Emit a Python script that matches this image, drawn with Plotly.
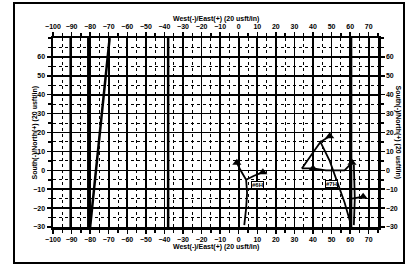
import plotly.graph_objects as go

# axis ticks
x_ticks = list(range(-100, 80, 10))   # West(-)/East(+)
y_ticks = list(range(-30, 70, 10))    # South(-)/North(+)
x_range = [-100, 75]
y_range = [-30, 70]

# well paths
v1_x = [-90.5, -90.5]; v1_y = [-30, 70]
v2_x = [-81, -81];     v2_y = [-30, 70]
v3_x = [-38, -38];     v3_y = [-30, 70]
v4_x = [60.5, 60.5];   v4_y = [-30, 70]
diag_x = [-80, -69.5]; diag_y = [-30, 70]

a_x = [-1, 1, 4, 4.5, 4, 3];      a_y = [4, 0, -5, -12, -20, -29]
b_x = [4, 8, 13];                 b_y = [-5, -3, -1]
c_x = [34, 44, 49, 53, 57, 60.5]; c_y = [1, 15, 5, -6, -17, -29]
c2_x = [44, 49];                  c2_y = [15, 18]
d_x = [34, 40, 47, 57, 61];       d_y = [1, 1, 0, 0, 4]
f_x = [62, 62.5, 62];             f_y = [3, -15, -29]
g_x = [61, 67];                   g_y = [-15, -14]

labels_text = ["#6H", "#7H"]
labels_x = [10, 50]
labels_y = [-8, -7]

fig = go.Figure()
line_style = dict(color="black", width=2.5)
for xs, ys in [(v1_x, v1_y), (v2_x, v2_y), (v3_x, v3_y), (v4_x, v4_y), (diag_x, diag_y)]:
    fig.add_trace(go.Scatter(x=xs, y=ys, mode="lines", line=line_style, hoverinfo="skip"))

path_style = dict(color="black", width=1.8)
for xs, ys in [(a_x, a_y), (b_x, b_y), (c_x, c_y), (c2_x, c2_y), (d_x, d_y), (f_x, f_y), (g_x, g_y)]:
    fig.add_trace(go.Scatter(x=xs, y=ys, mode="lines", line=path_style, hoverinfo="skip"))

# arrow / marker blobs at path ends
fig.add_trace(go.Scatter(x=[a_x[0], b_x[-1], c2_x[-1], d_x[1], g_x[-1], d_x[-1]],
                         y=[a_y[0], b_y[-1], c2_y[-1], d_y[1], g_y[-1], d_y[-1]],
                         mode="markers",
                         marker=dict(symbol="triangle-up", size=8, color="black"),
                         hoverinfo="skip"))

# invisible trace for mirrored axes
fig.add_trace(go.Scatter(x=[x_range[0]], y=[y_range[0]], xaxis="x2", yaxis="y2",
                         mode="markers", marker=dict(opacity=0), hoverinfo="skip"))

tick_font = dict(family="Liberation Sans", size=7, color="black", weight=700)
minor = dict(dtick=5, ticklen=3, tickcolor="black", ticks="outside",
             showgrid=True, gridcolor="black", griddash="dot", gridwidth=1)

fig.update_layout(
    template="none",
    width=408, height=274,
    margin=dict(l=53, r=30, t=38, b=47),
    paper_bgcolor="white", plot_bgcolor="white",
    font=dict(family="Liberation Sans", color="black"),
    showlegend=False,
    xaxis=dict(range=x_range, tickvals=x_ticks, ticks="outside", ticklen=4, tickwidth=1.5,
               tickcolor="black", tickfont=tick_font, showgrid=True, gridcolor="black",
               gridwidth=1.6, zeroline=False, showline=True, linecolor="black", linewidth=2.5,
               minor=minor, automargin=False),
    yaxis=dict(range=y_range, tickvals=y_ticks, ticks="outside", ticklen=4, tickwidth=1.5,
               tickcolor="black", tickfont=tick_font, showgrid=True, gridcolor="black",
               gridwidth=1.6, zeroline=False, showline=True, linecolor="black", linewidth=2.5,
               minor=minor, automargin=False),
    xaxis2=dict(range=x_range, tickvals=x_ticks, overlaying="x", side="top", ticks="outside",
                ticklen=4, tickwidth=1.5, tickcolor="black", tickfont=tick_font, showgrid=False,
                zeroline=False, showline=True, linecolor="black", linewidth=2.5,
                minor=dict(dtick=5, ticklen=3, ticks="outside", tickcolor="black"), automargin=False),
    yaxis2=dict(range=y_range, tickvals=y_ticks, overlaying="y", side="right", ticks="outside",
                ticklen=4, tickwidth=1.5, tickcolor="black", tickfont=tick_font, showgrid=False,
                zeroline=False, showline=True, linecolor="black", linewidth=2.5,
                minor=dict(dtick=5, ticklen=3, ticks="outside", tickcolor="black"), automargin=False),
)

title_font = dict(family="Liberation Sans", size=7, color="black", weight=700)
xt = "West(-)/East(+) (20 usft/in)"
yt = "South(-)/North(+) (20 usft/in)"
fig.add_annotation(text=xt, xref="paper", yref="paper", x=0.5, y=1.0, yshift=19,
                   yanchor="middle", showarrow=False, font=title_font)
fig.add_annotation(text=xt, xref="paper", yref="paper", x=0.5, y=0.0, yshift=-20,
                   yanchor="middle", showarrow=False, font=title_font)
fig.add_annotation(text=yt, xref="paper", yref="paper", x=0.0, y=0.5, xshift=-19,
                   xanchor="center", textangle=-90, showarrow=False, font=title_font)
fig.add_annotation(text=yt, xref="paper", yref="paper", x=1.0, y=0.5, xshift=20,
                   xanchor="center", textangle=90, showarrow=False, font=title_font)

for t, lx, ly in zip(labels_text, labels_x, labels_y):
    fig.add_annotation(text=t, x=lx, y=ly, showarrow=False, bgcolor="white",
                       bordercolor="black", borderwidth=1, borderpad=0,
                       font=dict(family="Liberation Sans", size=6, color="black", weight=700))

# scanned page frame
fig.add_shape(type="rect", xref="paper", yref="paper",
              x0=(14 - 53) / 325, x1=(404 - 53) / 325,
              y0=(227 - 263) / 189, y1=(227 - 3) / 189,
              line=dict(color="black", width=2))

fig.write_html("out.html", config={"displayModeBar": False, "staticPlot": True},
               post_script="document.body.style.margin='0';")
